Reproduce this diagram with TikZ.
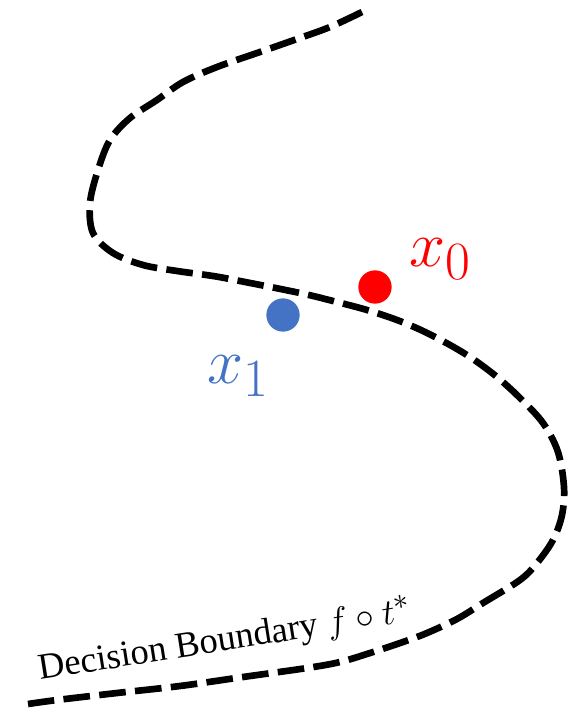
\documentclass[tikz,border=0pt]{standalone}
\usepackage{fontspec}
\setmainfont{Liberation Serif}
\usepackage{tikz}
\usetikzlibrary{positioning}
\definecolor{ptblue}{RGB}{68,114,196}
\definecolor{ptred}{RGB}{255,0,0}
\tikzset{
  boundary/.style={line width=5pt, dash pattern=on 20pt off 7pt},
  pt/.style={circle, inner sep=0pt, minimum size=25pt},
  ptlabel/.style={inner sep=0pt, font=\Huge, scale=1.95}
}

\begin{document}
\begin{tikzpicture}[x=0.75pt, y=-0.75pt]
        \useasboundingbox (0,0) rectangle (567,713);
        % Boundary
        \draw[boundary] plot[smooth, tension=0.55] coordinates {
          (362,12) (330,27) (297,39) (260,52) (217,67) (183,82) (157,100)
          (130,118) (110,140) (98,170) (90,203) (93,233) (113,253) (143,265)
          (177,271) (213,276) (240,281) (300,293) (333,301) (367,310)
          (397,320) (423,331) (450,345) (473,359) (497,377) (520,398)
          (543,423) (558,452) (564,487) (562,515) (553,540) (537,563)
          (520,580) (483,603) (457,619) (427,633) (403,642) (370,653)
          (340,662) (307,668) (243,677) (180,686) (117,693) (57,700) (28,704)};

        % Points
        \node[pt, fill=ptred] (x0) at (375,287) {};
        \node[pt, fill=ptblue] (x1) at (283,315) {};
        \node[ptlabel, text=ptred] (x0lab) at ([shift={(66,-28)}]x0) {$x_0$};
        \node[ptlabel, text=ptblue] (x1lab) at ([shift={(-44,61)}]x1) {$x_1$};

        % Label
        \node[anchor=base west, rotate=9, inner sep=0pt, scale=1.1,
              font=\Huge] (dblab) at (40,680)
              {Decision Boundary $f\circ t^{*}$};
    \end{tikzpicture}
\end{document}
